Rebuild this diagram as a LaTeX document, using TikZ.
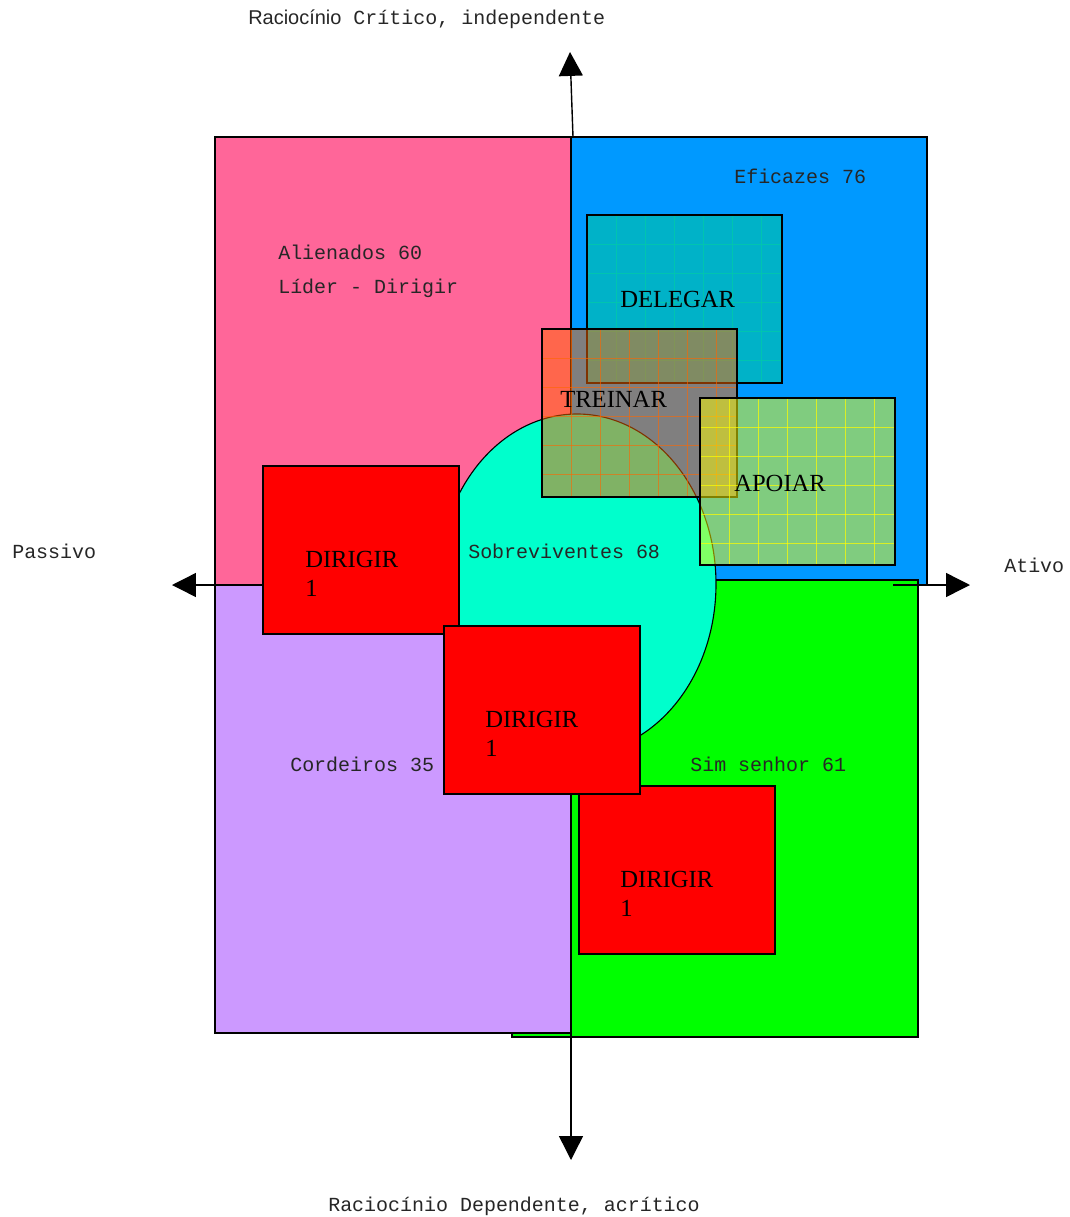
\documentclass[tikz,border=0pt]{standalone}
\usepackage{fontspec}
\setmainfont{Liberation Serif}
\setsansfont{Liberation Sans}
\setmonofont{Liberation Mono}
\usetikzlibrary{arrows.meta}

\definecolor{alienpink}{RGB}{255,102,153}
\definecolor{eficblue}{RGB}{0,153,255}
\definecolor{simgreen}{RGB}{0,255,0}
\definecolor{cordpurple}{RGB}{204,153,255}
\definecolor{sobrmint}{RGB}{0,255,204}
\definecolor{dirred}{RGB}{255,0,0}
\definecolor{delteal}{RGB}{0,178,200}
\definecolor{delgrid}{RGB}{0,196,176}
\definecolor{treorange}{RGB}{255,102,0}
\definecolor{apoyellow}{RGB}{255,255,0}

\tikzset{
  quad/.style={draw=black, line width=0.8pt},
  mono/.style={font=\fontsize{14.2}{17}\selectfont\ttfamily, text=black!85, inner sep=0pt, anchor=base west},
  boxtext/.style={font=\fontsize{17.5}{20}\selectfont\rmfamily, inner sep=0pt, anchor=base west},
  axisline/.style={line width=1pt, -{Triangle[length=17pt,width=17pt]}},
  gridline/.style={line width=0.35pt}
}

\begin{document}
\begin{tikzpicture}[x=0.025cm, y=-0.025cm]
  \useasboundingbox (0,0) rectangle (1070,1217);

  % the four quadrants
  \fill[alienpink, quad] (215,137) rectangle (571,585);
  \fill[eficblue, quad] (571,137) rectangle (927,585);
  \fill[simgreen, quad] (512,580) rectangle (918,1037);
  \fill[cordpurple, quad] (215,585) rectangle (571,1033);

  % axes
  \coordinate (topFoot) at (573,137);
  \coordinate (topTip) at (570,52);
  \coordinate (botFoot) at (571,1033);
  \coordinate (botTip) at (571,1160);
  \coordinate (leftFoot) at (215,585);
  \coordinate (leftTip) at (172,585);
  \coordinate (rightFoot) at (893,585);
  \coordinate (rightTip) at (970,585);
  \draw[axisline] (topFoot) -- (topTip);
  \draw[axisline] (botFoot) -- (botTip);
  \draw[axisline] (leftFoot) -- (leftTip);
  \draw[axisline] (rightFoot) -- (rightTip);

  % delegar
  \fill[delteal] (587,215) rectangle (782,383);
  \foreach \gx in {616,645,...,761}
    \draw[gridline, delgrid] (\gx,215) -- (\gx,383);
  \foreach \gy in {244,273,...,360}
    \draw[gridline, delgrid] (587,\gy) -- (782,\gy);
  \draw[quad] (587,215) rectangle (782,383);

  % sobreviventes
  \fill[sobrmint, quad] (577,584) ellipse [x radius=139, y radius=170];

  % treinar
  \fill[treorange, fill opacity=0.5] (542,329) rectangle (737,497);
  \foreach \gx in {571,600,...,716}
    \draw[gridline, treorange, draw opacity=0.6] (\gx,329) -- (\gx,497);
  \foreach \gy in {358,387,...,474}
    \draw[gridline, treorange, draw opacity=0.6] (542,\gy) -- (737,\gy);
  \draw[quad] (542,329) rectangle (737,497);

  % apoiar
  \fill[apoyellow, fill opacity=0.5] (700,398) rectangle (895,565);
  \foreach \gx in {729,758,...,874}
    \draw[gridline, apoyellow, draw opacity=0.7] (\gx,398) -- (\gx,565);
  \foreach \gy in {427,456,...,543}
    \draw[gridline, apoyellow, draw opacity=0.7] (700,\gy) -- (895,\gy);
  \draw[quad] (700,398) rectangle (895,565);

  % dirigir boxes
  \fill[dirred, quad] (263,466) rectangle (459,634);
  \fill[dirred, quad] (579,786) rectangle (775,954);
  \fill[dirred, quad] (444,626) rectangle (640,794);

  % labels
  \node[mono] (critico) at (248,24) {{\sffamily Raciocínio} Crítico, independente};
  \node[mono] (depend) at (328,1211) {Raciocínio Dependente, acrítico};
  \node[mono] (passivo) at (12,558) {Passivo};
  \node[mono] (ativo) at (1004,572) {Ativo};
  \node[mono] (alien) at (278,259) {Alienados 60};
  \node[mono] (lider) at (278,293) {Líder - Dirigir};
  \node[mono] (eficaz) at (734,183) {Eficazes 76};
  \node[mono] (sobrev) at (468,558) {Sobreviventes 68};
  \node[mono] (cordeiro) at (290,771) {Cordeiros 35};
  \node[mono] (simsenhor) at (690,771) {Sim senhor 61};

  \node[boxtext] (delegar) at (620,307) {DELEGAR};
  \node[boxtext] (treinar) at (560,407) {TREINAR};
  \node[boxtext] (apoiar) at (734,491) {APOIAR};

  \node[boxtext] (dirA) at (305,567) {DIRIGIR};
  \node[boxtext] (dirAn) at (305,596) {1};
  \node[boxtext] (dirB) at (485,727) {DIRIGIR};
  \node[boxtext] (dirBn) at (485,756) {1};
  \node[boxtext] (dirC) at (620,887) {DIRIGIR};
  \node[boxtext] (dirCn) at (620,916) {1};
\end{tikzpicture}
\end{document}
